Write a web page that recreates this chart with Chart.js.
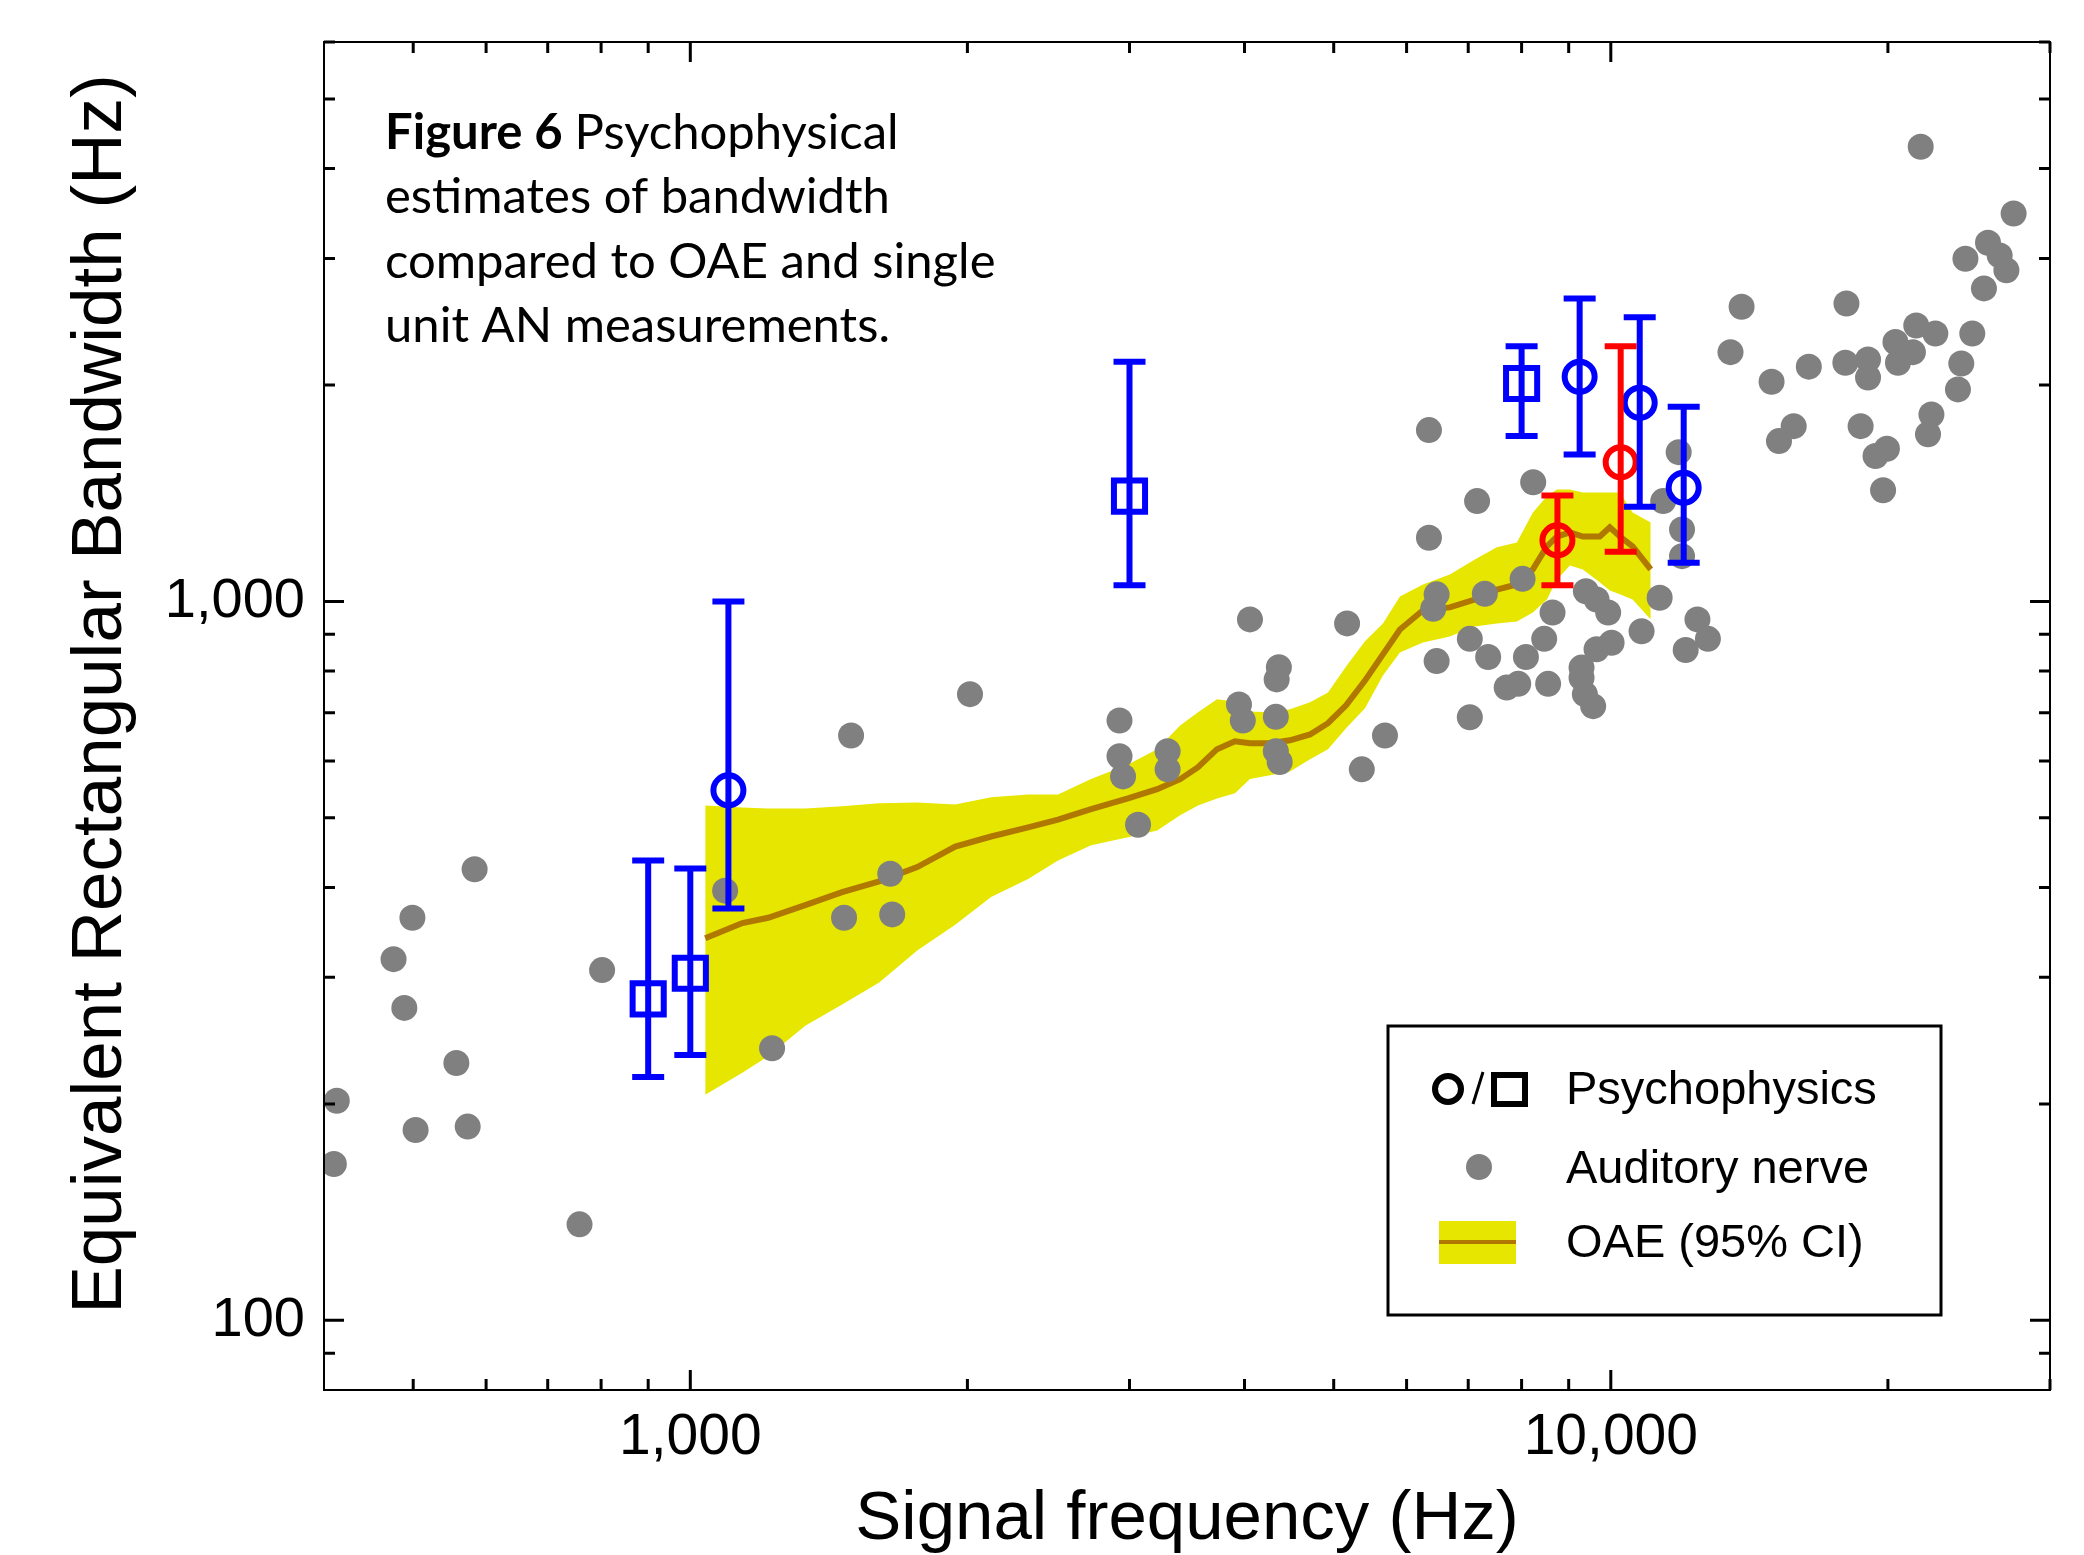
<!DOCTYPE html>
<html>
<head>
<meta charset="utf-8">
<title>Figure 6 - ERB estimates</title>
<script src="https://cdn.jsdelivr.net/npm/chart.js@4.4.1/dist/chart.umd.min.js"></script>
<style>
  html, body { margin: 0; padding: 0; background: #fff; }
  #wrap { width: 2084px; height: 1555px; }
</style>
</head>
<body>
<div id="wrap"><canvas id="erbChart" width="2084" height="1555"></canvas></div>
<script>
// Auditory nerve single units (signal frequency, ERB)
const anFreq = [583, 499, 476, 489, 557, 413, 503, 573, 410, 758, 802, 1495, 1091, 1227, 1469, 1649, 1657,
  2013, 2926, 2926, 2952, 3300, 3300, 3065, 4055, 5170, 4359, 4335, 3945, 3983, 4326, 4326, 4368, 5364,
  13870, 18030, 13490, 14950, 16410, 17980, 19030, 19030, 15800, 15230, 18680, 19390, 19950, 19760,
  6345, 8235, 7157, 6345, 11850, 11400, 11950, 11950, 8020, 7297, 6468, 6413, 9396, 9650, 9934, 8644,
  11300, 12420, 12750, 12060, 10800, 8465, 7028, 7358, 6468, 8087, 9650, 10020, 9294, 9294, 9372, 9568,
  7933, 7707, 8549, 7028, 5684,
  21710, 27390, 25690, 26450, 26900, 24280, 25430, 20380, 21470, 22520, 21290, 20510, 24700, 24030, 23830, 22300, 22110];
const anErb = [424, 363, 318, 272, 228, 202, 184, 186, 165, 136, 307, 651, 396, 239, 363, 418, 367,
  743, 683, 609, 571, 619, 584, 489, 944, 932, 810, 779, 719, 683, 691, 619, 598, 584,
  2570, 2597, 2222, 2021, 2121, 2148, 2171, 2049, 1753, 1671, 1753, 1593, 1631, 1428,
  1731, 1465, 1379, 1226, 1613, 1379, 1259, 1156, 1075, 1025, 1023, 977, 1033, 1006, 965, 965,
  1012, 944, 887, 856, 909, 887, 887, 837, 826, 837, 858, 876, 809, 783, 743, 715,
  768, 759, 768, 690, 651,
  4290, 3464, 3154, 3029, 2889, 2997, 2725, 2295, 2420, 2359, 2222, 2148, 2359, 2143, 1972, 1820, 1708];

// OAE estimate: mean and 95% confidence band
const oaeFreq = [1038, 1139, 1215, 1333, 1462, 1604, 1764, 1940, 2122, 2328, 2509, 2725, 2989, 3215, 3405,
  3561, 3734, 3906, 4055, 4264, 4482, 4713, 4929, 5157, 5407, 5655, 5901, 6251, 6685, 7117, 7520, 7906,
  8229, 8522, 8739, 9027, 9324, 9728, 9975, 10230, 10560, 11050];
const oaeHigh = [520, 517, 515, 515, 519, 524, 525, 522, 534, 539, 539, 566, 593, 623, 672,
  701, 731, 726, 703, 701, 708, 724, 747, 812, 880, 932, 1016, 1056, 1090, 1144, 1189, 1208,
  1330, 1400, 1431, 1431, 1418, 1418, 1418, 1418, 1330, 1288];
const oaeLow = [206, 221, 233, 257, 275, 295, 327, 355, 388, 411, 436, 458, 470, 480, 504,
  520, 532, 541, 566, 573, 580, 603, 623, 666, 710, 789, 849, 877, 894, 923, 932, 938,
  965, 1006, 1073, 1122, 1108, 1063, 1036, 1023, 1006, 944];
const oaeErb = [340, 357, 363, 378, 394, 408, 427, 456, 471, 485, 497, 514, 532, 548, 566,
  588, 623, 639, 635, 635, 641, 653, 677, 717, 776, 844, 914, 972, 981, 1006, 1039, 1056,
  1108, 1193, 1231, 1247, 1231, 1231, 1268, 1231, 1193, 1108];

// Psychophysics (centre, lower and upper end of the error bar)
const sqFreq = [900, 1000, 3000, 8000];
const sqErb = [280, 304, 1401, 2010];
const sqLow = [218, 234, 1053, 1698];
const sqHigh = [436, 425, 2155, 2265];

const blueFreq = [1100, 9250, 10750, 12000];
const blueErb = [546, 2054, 1889, 1439];
const blueLow = [374, 1601, 1354, 1132];
const blueHigh = [1000, 2638, 2485, 1866];

const redFreq = [8750, 10250];
const redErb = [1216, 1562];
const redLow = [1053, 1172];
const redHigh = [1404, 2265];

// Axis ticks
const xTicks = [500, 600, 700, 800, 900, 1000, 2000, 3000, 4000, 5000, 6000, 7000, 8000, 9000, 10000, 20000, 30000];
const yTicks = [90, 100, 200, 300, 400, 500, 600, 700, 800, 900, 1000, 2000, 3000, 4000, 5000, 6000];
const xLabelled = [1000, 10000];
const yLabelled = [100, 1000];

const captionLines = ["estimates of bandwidth", "compared to OAE and single", "unit AN measurements."];

const SANS = '"Liberation Sans", Arial, sans-serif';
const BLUE = '#0000ff';
const RED = '#ff0000';
const GREY = '#808080';
const YELLOW = '#e6e600';
const BROWN = '#b07800';

function toPoints(xs, ys) {
    return xs.map((x, i) => ({ x: x, y: ys[i] }));
}

// Frame, inward tick marks, error bars, titles, caption and legend
const decorations = {
    id: 'decorations',
    afterDatasetsDraw(chart) {
        const ctx = chart.ctx;
        const xs = chart.scales.x;
        const ys = chart.scales.y;

        const groups = [
            { f: sqFreq, lo: sqLow, hi: sqHigh, color: BLUE },
            { f: blueFreq, lo: blueLow, hi: blueHigh, color: BLUE },
            { f: redFreq, lo: redLow, hi: redHigh, color: RED }
        ];
        ctx.save();
        ctx.lineWidth = 6;
        groups.forEach(g => {
            ctx.strokeStyle = g.color;
            g.f.forEach((f, i) => {
                const px = xs.getPixelForValue(f);
                const top = ys.getPixelForValue(g.hi[i]);
                const bot = ys.getPixelForValue(g.lo[i]);
                ctx.beginPath();
                ctx.moveTo(px, top);
                ctx.lineTo(px, bot);
                ctx.moveTo(px - 16, top);
                ctx.lineTo(px + 16, top);
                ctx.moveTo(px - 16, bot);
                ctx.lineTo(px + 16, bot);
                ctx.stroke();
            });
        });
        ctx.restore();
    },
    afterDraw(chart) {
        const ctx = chart.ctx;
        const area = chart.chartArea;
        const xs = chart.scales.x;
        const ys = chart.scales.y;

        ctx.save();
        // frame
        ctx.strokeStyle = '#000';
        ctx.lineWidth = 2;
        ctx.strokeRect(area.left, area.top, area.right - area.left, area.bottom - area.top);

        // tick marks pointing inside
        ctx.lineWidth = 3;
        ctx.beginPath();
        xTicks.forEach(v => {
            const px = xs.getPixelForValue(v);
            const len = xLabelled.includes(v) ? 20 : 11;
            ctx.moveTo(px, area.bottom);
            ctx.lineTo(px, area.bottom - len);
            ctx.moveTo(px, area.top);
            ctx.lineTo(px, area.top + len);
        });
        yTicks.forEach(v => {
            const py = ys.getPixelForValue(v);
            const len = yLabelled.includes(v) ? 20 : 11;
            ctx.moveTo(area.left, py);
            ctx.lineTo(area.left + len, py);
            ctx.moveTo(area.right, py);
            ctx.lineTo(area.right - len, py);
        });
        ctx.stroke();

        // axis titles
        ctx.fillStyle = '#000';
        ctx.font = '69px ' + SANS;
        ctx.textAlign = 'center';
        ctx.textBaseline = 'alphabetic';
        ctx.fillText('Signal frequency (Hz)', (area.left + area.right) / 2, 1539);
        ctx.save();
        ctx.translate(121, 694);
        ctx.rotate(-Math.PI / 2);
        ctx.font = '71px ' + SANS;
        ctx.fillText('Equivalent Rectangular Bandwidth (Hz)', 0, 0);
        ctx.restore();

        // caption
        ctx.textAlign = 'left';
        ctx.font = 'bold 49px Lato';
        ctx.fillText('Figure 6', 385, 149);
        const boldW = ctx.measureText('Figure 6 ').width;
        ctx.font = '49px Lato';
        ctx.fillText('Psychophysical', 385 + boldW, 149);
        captionLines.forEach((line, i) => {
            ctx.fillText(line, 385, 213 + i * 64.5);
        });

        // legend
        const lx = 1388, ly = 1026, lw = 553, lh = 289;
        ctx.fillStyle = '#fff';
        ctx.fillRect(lx, ly, lw, lh);
        ctx.strokeStyle = '#000';
        ctx.lineWidth = 3;
        ctx.strokeRect(lx, ly, lw, lh);

        ctx.lineWidth = 6;
        ctx.beginPath();
        ctx.arc(1448, 1089, 13, 0, Math.PI * 2);
        ctx.stroke();
        ctx.lineWidth = 3;
        ctx.beginPath();
        ctx.moveTo(1473, 1104);
        ctx.lineTo(1483, 1072);
        ctx.stroke();
        ctx.lineWidth = 6;
        ctx.strokeRect(1494, 1075, 31, 29);

        ctx.fillStyle = GREY;
        ctx.beginPath();
        ctx.arc(1479, 1167, 13, 0, Math.PI * 2);
        ctx.fill();

        ctx.fillStyle = YELLOW;
        ctx.fillRect(1439, 1221, 77, 43);
        ctx.strokeStyle = BROWN;
        ctx.lineWidth = 4;
        ctx.beginPath();
        ctx.moveTo(1439, 1242);
        ctx.lineTo(1516, 1242);
        ctx.stroke();

        ctx.fillStyle = '#000';
        ctx.font = '47px ' + SANS;
        ctx.fillText('Psychophysics', 1566, 1104);
        ctx.fillText('Auditory nerve', 1566, 1183);
        ctx.fillText('OAE (95% CI)', 1566, 1257);
        ctx.restore();
    }
};

// keep the plot box where the figure has it: no extra room for half tick labels
function noLabelOverhang(scale) {
    scale.paddingTop = 0;
    scale.paddingBottom = 0;
    scale.paddingLeft = 0;
    scale.paddingRight = 0;
}

const ctx = document.getElementById('erbChart').getContext('2d');

new Chart(ctx, {
    type: 'scatter',
    data: {
        datasets: [
            {
                type: 'line',
                label: 'OAE upper',
                data: toPoints(oaeFreq, oaeHigh),
                borderColor: 'rgba(0,0,0,0)',
                borderWidth: 0,
                pointRadius: 0,
                tension: 0,
                backgroundColor: YELLOW,
                fill: '+1',
                order: 5
            },
            {
                type: 'line',
                label: 'OAE lower',
                data: toPoints(oaeFreq, oaeLow),
                borderColor: 'rgba(0,0,0,0)',
                borderWidth: 0,
                pointRadius: 0,
                tension: 0,
                fill: false,
                order: 6
            },
            {
                type: 'line',
                label: 'OAE (95% CI)',
                data: toPoints(oaeFreq, oaeErb),
                borderColor: BROWN,
                borderWidth: 6,
                pointRadius: 0,
                tension: 0,
                fill: false,
                order: 4
            },
            {
                label: 'Auditory nerve',
                data: toPoints(anFreq, anErb),
                pointRadius: 13,
                backgroundColor: GREY,
                borderWidth: 0,
                order: 3
            },
            {
                label: 'Psychophysics (squares)',
                data: toPoints(sqFreq, sqErb),
                pointStyle: 'rect',
                pointRadius: 22,
                borderColor: BLUE,
                borderWidth: 6,
                backgroundColor: 'rgba(0,0,0,0)',
                order: 2
            },
            {
                label: 'Psychophysics (circles)',
                data: toPoints(blueFreq, blueErb),
                pointStyle: 'circle',
                pointRadius: 15,
                borderColor: BLUE,
                borderWidth: 6,
                backgroundColor: 'rgba(0,0,0,0)',
                order: 1
            },
            {
                label: 'Psychophysics (red circles)',
                data: toPoints(redFreq, redErb),
                pointStyle: 'circle',
                pointRadius: 15,
                borderColor: RED,
                borderWidth: 6,
                backgroundColor: 'rgba(0,0,0,0)',
                order: 0
            }
        ]
    },
    options: {
        responsive: false,
        animation: false,
        devicePixelRatio: 1,
        layout: { padding: { left: 0, right: 34, top: 42, bottom: 0 } },
        plugins: {
            legend: { display: false },
            tooltip: { enabled: false }
        },
        scales: {
            x: {
                type: 'logarithmic',
                min: 400,
                max: 30000,
                afterBuildTicks: scale => { scale.ticks = xTicks.map(v => ({ value: v })); },
                afterFit: scale => { scale.height = 165; noLabelOverhang(scale); },
                grid: { display: false, drawTicks: false },
                border: { display: false },
                ticks: {
                    autoSkip: false,
                    maxRotation: 0,
                    padding: 14,
                    color: '#000',
                    font: { family: SANS, size: 57 },
                    callback: v => xLabelled.includes(v) ? v.toLocaleString('en-US') : ''
                }
            },
            y: {
                type: 'logarithmic',
                min: 80,
                max: 6000,
                afterBuildTicks: scale => { scale.ticks = yTicks.map(v => ({ value: v })); },
                afterFit: scale => { scale.width = 324; noLabelOverhang(scale); },
                grid: { display: false, drawTicks: false },
                border: { display: false },
                ticks: {
                    autoSkip: false,
                    padding: 19,
                    color: '#000',
                    font: { family: SANS, size: 56 },
                    callback: v => yLabelled.includes(v) ? v.toLocaleString('en-US') : ''
                }
            }
        }
    },
    plugins: [decorations]
});
</script>
</body>
</html>
